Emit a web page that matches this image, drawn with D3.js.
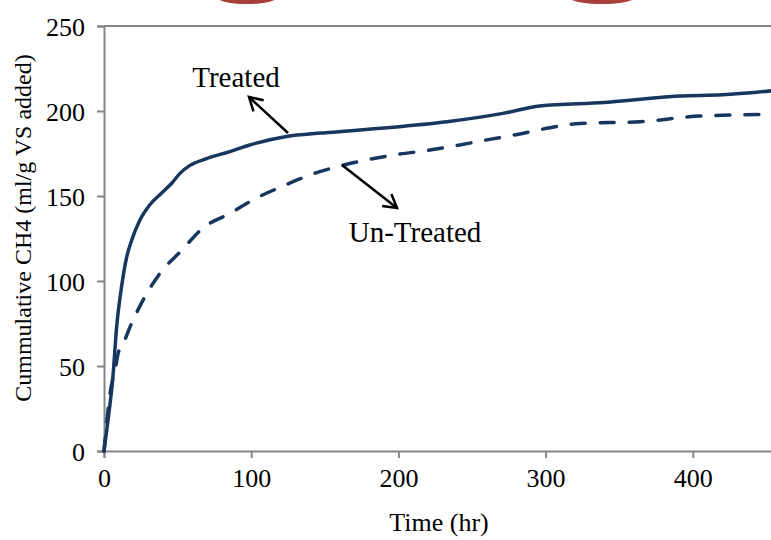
<!DOCTYPE html>
<html>
<head>
<meta charset="utf-8">
<script src="https://cdn.jsdelivr.net/npm/d3@7"></script>
<style>
  body { margin: 0; background: #fff; }
  text { font-family: "Liberation Serif", "Times New Roman", serif; fill: #000; }
</style>
</head>
<body>
<svg id="chart-area"></svg>
<script>
// data
const treatedTime = [0, 3, 6, 8.6, 12, 15.4, 18.8, 24.5, 31, 39, 46, 51.6, 58.4, 69.7, 85, 99, 124, 147, 170, 187.5, 233, 271, 296, 340, 391, 420, 455]
const treatedCH4 = [0, 20, 43, 73, 97, 114, 124, 136, 144.7, 151.6, 157.5, 163.3, 168, 172, 176, 180, 185, 187, 188.5, 189.8, 193.7, 198.6, 203, 205, 208.8, 209.5, 212]

const untreatedTime = [0, 4, 8, 9.8, 13, 17.7, 26.7, 38, 52.7, 67, 86, 104, 122, 142, 162, 196, 221.5, 262, 282.6, 300.7, 323, 364, 405, 455]
const untreatedCH4 = [0, 33, 50, 58, 63, 73, 89, 104.5, 118, 131, 140, 149, 156, 163, 168, 174, 177, 183.3, 186.5, 189.8, 192.7, 193.7, 197, 198]

const xTicks = [0, 100, 200, 300, 400]
const yTicks = [0, 50, 100, 150, 200, 250]

function drawChart() {
    const width = 771
    const height = 540

    const svg = d3.select("#chart-area")
        .attr("width", width)
        .attr("height", height)

    const x = d3.scaleLinear().domain([0, 500]).range([104, 104 + 500 * 1.472])
    const y = d3.scaleLinear().domain([0, 250]).range([451, 26])

    // red shapes cut off at the top
    svg.append("ellipse").attr("cx", 247).attr("cy", -4).attr("rx", 32).attr("ry", 8).attr("fill", "#a83f3a")
    svg.append("ellipse").attr("cx", 602).attr("cy", -4).attr("rx", 35).attr("ry", 8).attr("fill", "#a83f3a")

    const axisColor = "#868686"

    // top border of plot area
    svg.append("line")
        .attr("x1", x(0)).attr("x2", width)
        .attr("y1", y(250)).attr("y2", y(250))
        .attr("stroke", axisColor).attr("stroke-width", 2)

    // y axis
    const yAxis = svg.append("g")
        .attr("transform", `translate(${x(0)},0)`)
        .call(d3.axisLeft(y).tickValues(yTicks).tickSize(7).tickPadding(12))
    yAxis.select(".domain").attr("stroke", axisColor).attr("stroke-width", 2)
    yAxis.selectAll(".tick line").attr("stroke", axisColor).attr("stroke-width", 2)
    yAxis.selectAll(".tick text")
        .attr("font-size", 26)
        .attr("font-family", "Liberation Serif")
        .attr("fill", "#000")
        .attr("dy", "0.35em")

    // x axis
    const xAxis = svg.append("g")
        .attr("transform", `translate(0,${y(0)})`)
        .call(d3.axisBottom(x).tickValues(xTicks).tickSize(7).tickPadding(11))
    xAxis.select(".domain").attr("stroke", axisColor).attr("stroke-width", 2)
    xAxis.selectAll(".tick line").attr("stroke", axisColor).attr("stroke-width", 2)
    xAxis.selectAll(".tick text")
        .attr("font-size", 26)
        .attr("font-family", "Liberation Serif")
        .attr("fill", "#000")

    // axis titles
    svg.append("text")
        .attr("x", 439).attr("y", 531)
        .attr("text-anchor", "middle")
        .attr("font-size", 26)
        .text("Time (hr)")

    svg.append("text")
        .attr("transform", "translate(31,228) rotate(-90)")
        .attr("text-anchor", "middle")
        .attr("font-size", 24)
        .text("Cummulative CH4 (ml/g VS added)")

    const line = d3.line()
        .x(d => x(d[0]))
        .y(d => y(d[1]))
        .curve(d3.curveMonotoneX)

    const untreated = untreatedTime.map((t, i) => [t, untreatedCH4[i]])
    const treated = treatedTime.map((t, i) => [t, treatedCH4[i]])

    svg.append("path")
        .datum(untreated)
        .attr("d", line)
        .attr("fill", "none")
        .attr("stroke", "#17375e")
        .attr("stroke-width", 3.5)
        .attr("stroke-linecap", "round")
        .attr("stroke-dasharray", "14,15")

    svg.append("path")
        .datum(treated)
        .attr("d", line)
        .attr("fill", "none")
        .attr("stroke", "#17375e")
        .attr("stroke-width", 3.5)
        .attr("stroke-linecap", "round")

    // annotations with arrows
    function arrow(x1, y1, x2, y2) {
        const a = Math.atan2(y2 - y1, x2 - x1)
        const len = 15
        const spread = Math.PI / 6
        const g = svg.append("g").attr("stroke", "#000").attr("stroke-width", 2.5).attr("fill", "none")
        g.append("line").attr("x1", x1).attr("y1", y1).attr("x2", x2).attr("y2", y2)
        g.append("path").attr("d",
            `M${x2 - len * Math.cos(a - spread)},${y2 - len * Math.sin(a - spread)}` +
            `L${x2},${y2}` +
            `L${x2 - len * Math.cos(a + spread)},${y2 - len * Math.sin(a + spread)}`)
    }

    arrow(288, 133, 249, 97)
    arrow(342, 165, 397, 208)

    svg.append("text")
        .attr("x", 236).attr("y", 87)
        .attr("text-anchor", "middle")
        .attr("font-size", 29)
        .text("Treated")

    svg.append("text")
        .attr("x", 415).attr("y", 242)
        .attr("text-anchor", "middle")
        .attr("font-size", 29)
        .text("Un-Treated")
}

drawChart()
</script>
</body>
</html>
